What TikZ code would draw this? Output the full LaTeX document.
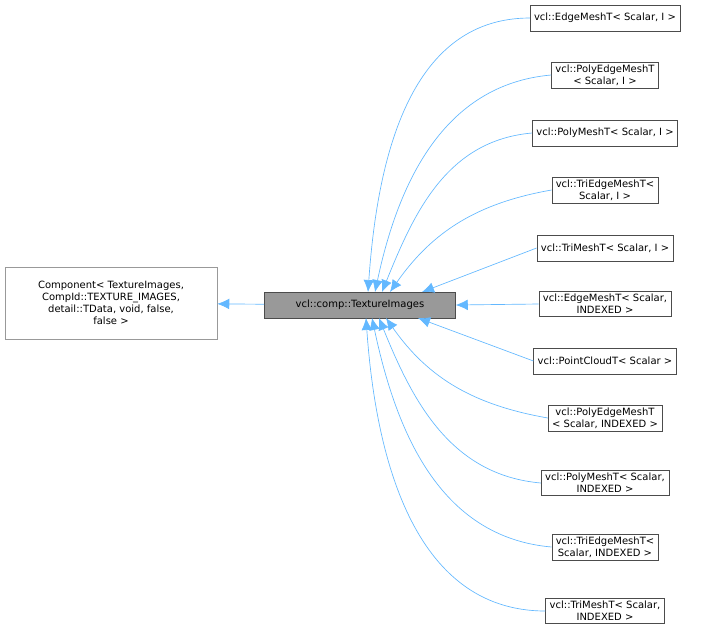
\documentclass[tikz,border=0pt]{standalone}
\usepackage{fontspec}
\setmainfont{DejaVu Sans}
\usetikzlibrary{arrows.meta}

\definecolor{edgeblue}{HTML}{63B8FF}
\definecolor{boxgray}{HTML}{999999}

\begin{document}
\begin{tikzpicture}[x=0.75pt,y=-0.75pt,
    font=\fontsize{7.5}{9}\selectfont,
    cls/.style={draw=black!70,fill=white,inner xsep=3pt,inner ysep=2pt,align=center},
    inherit/.style={-{Latex[length=9pt,width=8pt]},draw=edgeblue,fill=none,line width=0.5pt}]

  \useasboundingbox (0,0) rectangle (715,637);

  % base classes
  \node[cls,draw=boxgray,minimum width=212*0.75pt,minimum height=72*0.75pt] (comp) at (111,303)
    {Component< TextureImages,\\CompId::TEXTURE\_IMAGES,\\detail::TData, void, false,\\false >};
  \node[cls,fill=boxgray,minimum width=191*0.75pt,minimum height=26*0.75pt] (tex) at (360,305)
    {vcl::comp::TextureImages};

  % derived classes
  \node[cls,minimum height=26*0.75pt] (r1) at (605,18) {vcl::EdgeMeshT< Scalar, I >};
  \node[cls] (r2) at (605,75) {vcl::PolyEdgeMeshT\\< Scalar, I >};
  \node[cls,minimum height=26*0.75pt] (r3) at (605,133) {vcl::PolyMeshT< Scalar, I >};
  \node[cls] (r4) at (605,190) {vcl::TriEdgeMeshT<\\Scalar, I >};
  \node[cls,minimum height=26*0.75pt] (r5) at (605,248) {vcl::TriMeshT< Scalar, I >};
  \node[cls] (r6) at (605,304) {vcl::EdgeMeshT< Scalar,\\INDEXED >};
  \node[cls,minimum height=26*0.75pt] (r7) at (605,361) {vcl::PointCloudT< Scalar >};
  \node[cls] (r8) at (605,418) {vcl::PolyEdgeMeshT\\< Scalar, INDEXED >};
  \node[cls] (r9) at (605,483) {vcl::PolyMeshT< Scalar,\\INDEXED >};
  \node[cls] (r10) at (605,547) {vcl::TriEdgeMeshT<\\Scalar, INDEXED >};
  \node[cls] (r11) at (605,611) {vcl::TriMeshT< Scalar,\\INDEXED >};

  % arrow ends on the base class
  \coordinate (t1) at (368,292);
  \coordinate (t2) at (375,292);
  \coordinate (t3) at (382,292);
  \coordinate (t4) at (390,292);
  \coordinate (t5) at (422,292);
  \coordinate (b7) at (418,318);
  \coordinate (b8) at (386,318);
  \coordinate (b9) at (379,318);
  \coordinate (b10) at (372,318);
  \coordinate (b11) at (366,318);

  \draw[inherit] (tex) -- (comp);
  \draw[inherit] (r1.west) to[out=180,in=86] (t1);
  \draw[inherit] (r2.west) to[out=185,in=78] (t2);
  \draw[inherit] (r3.west) to[out=185,in=68] (t3);
  \draw[inherit] (r4.west) to[out=190,in=55] (t4);
  \draw[inherit] (r5.west) -- (t5);
  \draw[inherit] (r6.west) -- (tex.east);
  \draw[inherit] (r7.west) -- (b7);
  \draw[inherit] (r8.west) to[out=170,in=-55] (b8);
  \draw[inherit] (r9.west) to[out=175,in=-68] (b9);
  \draw[inherit] (r10.west) to[out=175,in=-78] (b10);
  \draw[inherit] (r11.west) to[out=180,in=-86] (b11);
\end{tikzpicture}
\end{document}
